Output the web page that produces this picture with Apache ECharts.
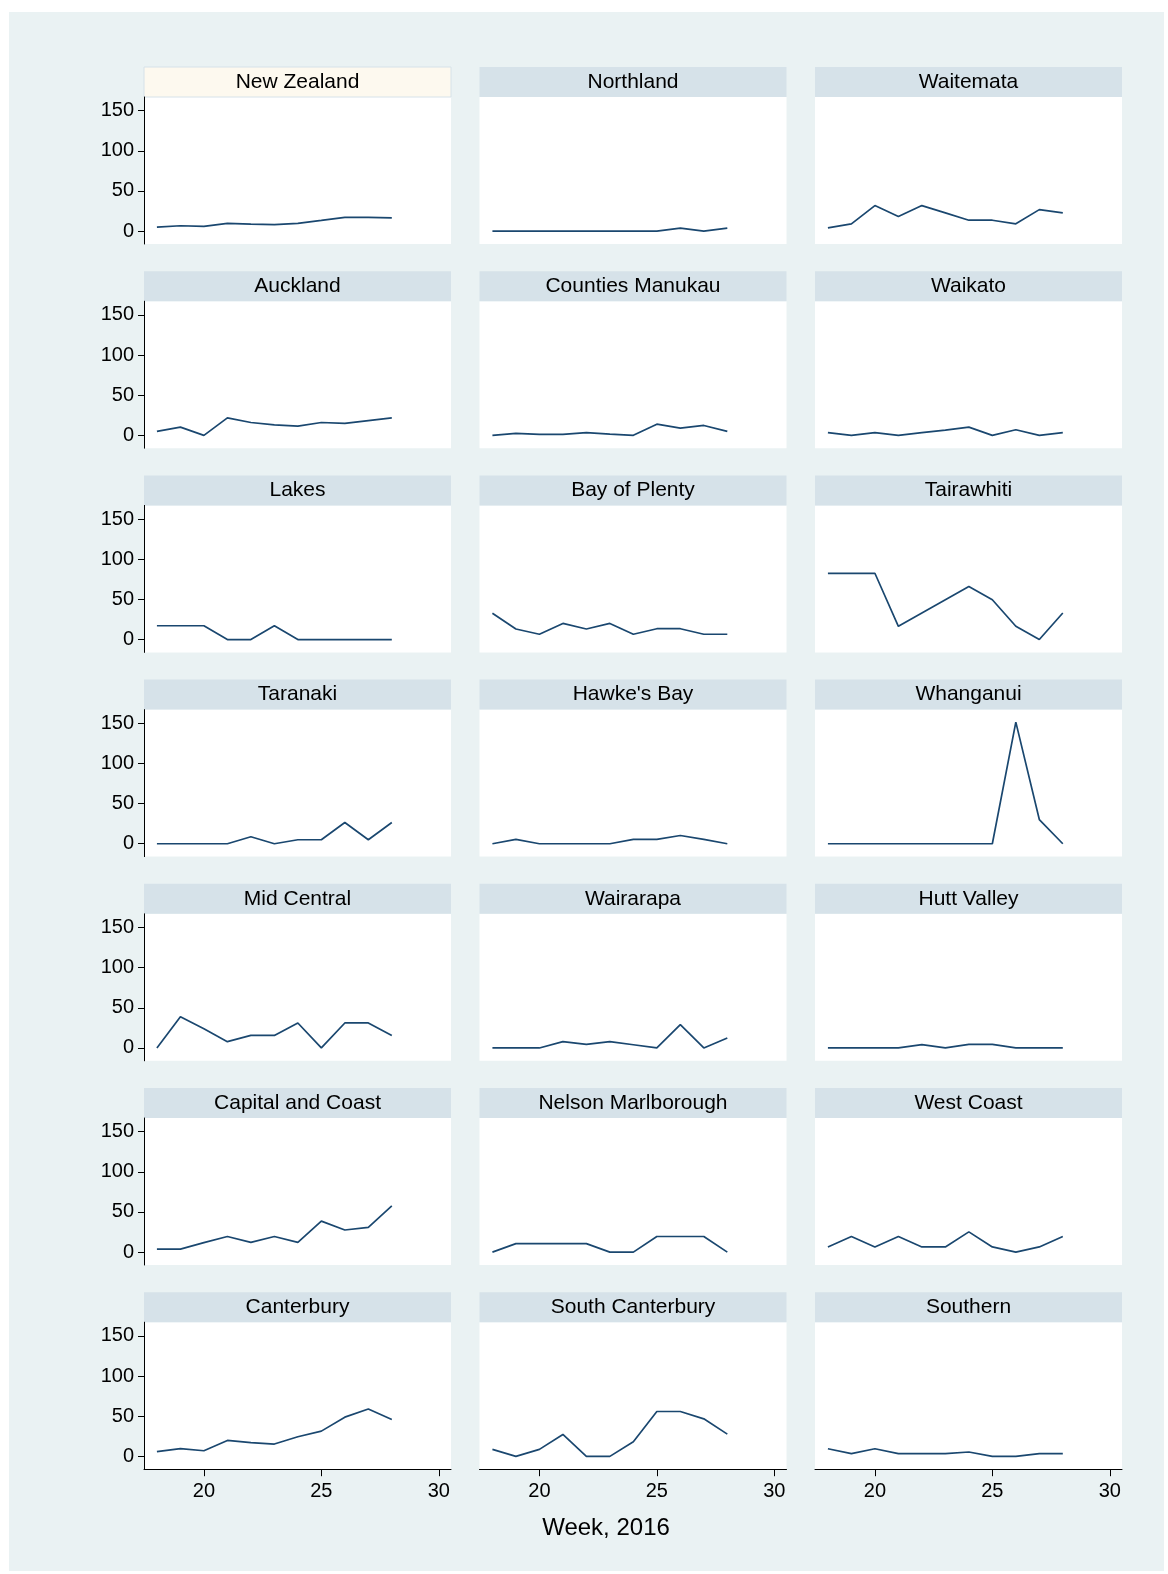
<!DOCTYPE html>
<html>
<head>
<meta charset="utf-8">
<script src="https://cdn.jsdelivr.net/npm/echarts@6/dist/echarts.min.js"></script>
<style>
  html, body { margin: 0; padding: 0; background: #ffffff; }
  #chart { width: 1168px; height: 1574px; }
</style>
</head>
<body>
<div id="chart"></div>
<script>
// Weekly rate by district health board, weeks 18–28 of 2016
const weeks = [18, 19, 20, 21, 22, 23, 24, 25, 26, 27, 28];

const newZealand        = [5, 6.7, 5.9, 9.7, 8.8, 8, 9.7, 13.4, 17.2, 17.2, 16.4];
const northland         = [0, 0, 0, 0, 0, 0, 0, 0, 3.7, 0, 3.7];
const waitemata         = [4.1, 9.1, 31.8, 18.2, 31.8, 22.7, 13.6, 13.6, 9.1, 26.8, 22.7];
const auckland          = [4.9, 10.2, 0, 21.7, 16, 13.1, 11.5, 16, 14.8, 18.4, 21.7];
const countiesManukau   = [0, 2.5, 1.2, 1.2, 3.3, 1.6, 0, 13.9, 9, 12.3, 4.9];
const waikato           = [3.3, 0, 3.3, 0, 3.3, 6.6, 10.2, 0, 7, 0, 3.3];
const lakes             = [17.2, 17.2, 17.2, 0, 0, 17.2, 0, 0, 0, 0, 0];
const bayOfPlenty       = [32.8, 13.1, 6.6, 20.1, 13.1, 20.1, 6.6, 13.5, 13.5, 6.6, 6.6];
const tairawhiti        = [82.5, 82.5, 82.5, 16.5, 33, 49.5, 66, 49.5, 16.5, 0, 33];
const taranaki          = [0, 0, 0, 0, 8.7, 0, 5, 5, 26.4, 5, 26.4];
const hawkesBay         = [0, 5.4, 0, 0, 0, 0, 5.4, 5.4, 10.3, 5.4, 0];
const whanganui         = [0, 0, 0, 0, 0, 0, 0, 0, 151.4, 30.1, 0];
const midCentral        = [0, 38.9, 23.8, 7.8, 15.6, 15.6, 31.1, 0, 31.1, 31.1, 15.6];
const wairarapa         = [0, 0, 0, 7.8, 4.5, 7.8, 4, 0, 29, 0, 12.3];
const huttValley        = [0, 0, 0, 0, 4.1, 0, 4.5, 4.5, 0, 0, 0];
const capitalAndCoast   = [3.7, 3.7, 11.8, 19.5, 12.2, 19.5, 12.2, 38.6, 27.6, 30.9, 57.7];
const nelsonMarlborough = [0, 10.6, 10.6, 10.6, 10.6, 0, 0, 19.5, 19.5, 19.5, 0];
const westCoast         = [6.5, 19.5, 6.5, 19.5, 6.5, 6.5, 25.2, 6.5, 0, 6.5, 19.5];
const canterbury        = [5.8, 9.5, 7, 19.8, 17, 15.3, 24.4, 31.4, 48.8, 59, 45.9];
const southCanterbury   = [8.7, 0, 8.7, 27.3, 0, 0, 18.2, 55.8, 55.8, 46.7, 27.7];
const southern          = [9.5, 3.3, 9.5, 3.3, 3.3, 3.3, 5.4, 0, 0, 3.3, 3.3];

const panelNames = [
  'New Zealand', 'Northland', 'Waitemata',
  'Auckland', 'Counties Manukau', 'Waikato',
  'Lakes', 'Bay of Plenty', 'Tairawhiti',
  'Taranaki', "Hawke's Bay", 'Whanganui',
  'Mid Central', 'Wairarapa', 'Hutt Valley',
  'Capital and Coast', 'Nelson Marlborough', 'West Coast',
  'Canterbury', 'South Canterbury', 'Southern'
];
const panelValues = [
  newZealand, northland, waitemata,
  auckland, countiesManukau, waikato,
  lakes, bayOfPlenty, tairawhiti,
  taranaki, hawkesBay, whanganui,
  midCentral, wairarapa, huttValley,
  capitalAndCoast, nelsonMarlborough, westCoast,
  canterbury, southCanterbury, southern
];

const xTicks = [20, 25, 30];
const yTicks = [0, 50, 100, 150];
const xTitle = 'Week, 2016';

// Layout of the 3 x 7 panel grid
const FONT = '"Liberation Sans", Arial, Helvetica, sans-serif';
const NCOL = 3, NROW = 7;
const plotLeft0 = 144, colStep = 335.5, plotW = 307;
const plotTop0 = 97, rowStep = 204.2, plotH = 147;
const stripH = 30;
const lineColor = '#1a476f';
const axisColor = '#000000';

const grids = [], xAxes = [], yAxes = [], series = [], graphics = [];

graphics.push({
  type: 'rect', z: -100, silent: true,
  shape: { x: 9, y: 12, width: 1155, height: 1559 },
  style: { fill: '#eaf2f3' }
});

panelNames.forEach((name, i) => {
  const col = i % NCOL, row = Math.floor(i / NCOL);
  const left = plotLeft0 + col * colStep;
  const top = plotTop0 + row * rowStep;
  const isBottom = row === NROW - 1;
  const isLeft = col === 0;

  grids.push({
    left: left, top: top, width: plotW, height: plotH,
    show: true, backgroundColor: '#ffffff', borderWidth: 0
  });

  xAxes.push({
    type: 'value', gridIndex: i, min: 17.45, max: 30.52,
    axisLine: { show: isBottom, onZero: false, lineStyle: { color: axisColor, width: 1 } },
    axisTick: { show: isBottom, customValues: xTicks, length: 7, lineStyle: { color: axisColor, width: 1 } },
    axisLabel: { show: isBottom, customValues: xTicks, fontSize: 20, fontFamily: FONT, color: axisColor, margin: 12 },
    splitLine: { show: false }
  });

  yAxes.push({
    type: 'value', gridIndex: i, min: -16, max: 167,
    axisLine: { show: isLeft, onZero: false, lineStyle: { color: axisColor, width: 1 } },
    axisTick: { show: isLeft, customValues: yTicks, length: 6, lineStyle: { color: axisColor, width: 1 } },
    axisLabel: { show: isLeft, customValues: yTicks, fontSize: 20, fontFamily: FONT, color: axisColor, margin: 10 },
    splitLine: { show: false }
  });

  series.push({
    type: 'line', name: name, xAxisIndex: i, yAxisIndex: i,
    data: weeks.map((w, k) => [w, panelValues[i][k]]),
    showSymbol: false, symbol: 'none',
    lineStyle: { color: lineColor, width: 1.7 },
    itemStyle: { color: lineColor },
    animation: false, silent: true
  });

  // Panel strip with the district name
  const highlight = i === 0;
  graphics.push({
    type: 'rect', silent: true,
    shape: { x: left, y: top - stripH, width: plotW, height: stripH },
    style: { fill: highlight ? '#fdf9ef' : '#d6e2e9', stroke: highlight ? '#d6e2e9' : null, lineWidth: 1 }
  });
  graphics.push({
    type: 'text', silent: true,
    x: left + plotW / 2, y: top - stripH / 2,
    style: {
      text: name, fill: '#000000', fontSize: 21, fontFamily: FONT,
      textAlign: 'center', textVerticalAlign: 'middle'
    }
  });
});

graphics.push({
  type: 'text', silent: true,
  x: 606, y: 1528,
  style: {
    text: xTitle, fill: '#000000', fontSize: 24, fontFamily: FONT,
    textAlign: 'center', textVerticalAlign: 'middle'
  }
});

const chart = echarts.init(document.getElementById('chart'), null, { renderer: 'canvas' });
chart.setOption({
  backgroundColor: '#ffffff',
  animation: false,
  grid: grids,
  xAxis: xAxes,
  yAxis: yAxes,
  series: series,
  graphic: graphics
});
</script>
</body>
</html>
